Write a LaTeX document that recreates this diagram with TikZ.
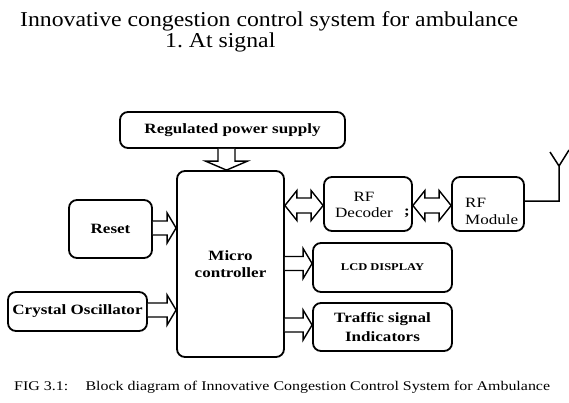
\documentclass[tikz,border=0pt]{standalone}
\usepackage{fontspec}
\setmainfont{Liberation Serif}[FakeStretch=1.2]
\newfontfamily\titlefont{Liberation Serif}[FakeStretch=1.12]
\usetikzlibrary{calc}
\tikzset{
  blk/.style={draw=black, line width=1.8pt, rounded corners=8pt, fill=white, inner sep=0pt, align=center, font=\bfseries\fontsize{14.2}{17}\selectfont},
  txt/.style={inner sep=0pt, align=center},
  barr/.style={draw=black, line width=1.4pt, fill=white, line join=miter},
  rblock/.style={barr, to path={let \p1=(\tikztostart), \p2=(\tikztotarget) in
    (\x1,\y1+7pt) -- (\x2-9pt,\y1+7pt) -- (\x2-9pt,\y1+15pt) -- (\x2,\y1) -- (\x2-9pt,\y1-15pt) -- (\x2-9pt,\y1-7pt) -- (\x1,\y1-7pt)}},
  dblock/.style={barr, to path={let \p1=(\tikztostart), \p2=(\tikztotarget) in
    (\x1-8.5pt,\y1) -- (\x1-8.5pt,\y2+9pt) -- (\x1-21pt,\y2+9pt) -- (\x1,\y2) -- (\x1+21pt,\y2+9pt) -- (\x1+8.5pt,\y2+9pt) -- (\x1+8.5pt,\y1)}},
  lrblock/.style={barr, to path={let \p1=(\tikztostart), \p2=(\tikztotarget) in
    (\x1,\y1) -- (\x1+12pt,\y1+15pt) -- (\x1+12pt,\y1+7.5pt) -- (\x2-12pt,\y1+7.5pt) -- (\x2-12pt,\y1+15pt) -- (\x2,\y1)
    -- (\x2-12pt,\y1-15pt) -- (\x2-12pt,\y1-7.5pt) -- (\x1+12pt,\y1-7.5pt) -- (\x1+12pt,\y1-15pt) -- cycle}},
}
\begin{document}
\begin{tikzpicture}[x=1pt,y=-1pt]
\useasboundingbox[fill=white] (0,0) rectangle (569,402);
% titles
\node[txt, anchor=base west, font=\titlefont\fontsize{21.2}{23}\selectfont] (title) at (20,26) {Innovative congestion control system for ambulance};
\node[txt, anchor=base west, font=\titlefont\fontsize{21.2}{23}\selectfont] (sub) at (165,47) {1.~At signal};
\node[txt, anchor=base west, font=\fontsize{13.3}{15}\selectfont] (cap) at (14,390) {FIG 3.1:\hspace{1.3em}Block diagram of Innovative Congestion Control System for Ambulance};
% blocks
\node[blk, minimum width=225pt, minimum height=36pt] (power) at (232.5,130) {Regulated power supply};
\node[blk, minimum width=107pt, minimum height=186pt] (mc) at (230.5,264) {Micro\\controller};
\node[blk, minimum width=83pt, minimum height=58pt] (reset) at (110.5,229) {Reset};
\node[blk, minimum width=139pt, minimum height=39pt] (crystal) at (77.5,311.5) {Crystal Oscillator};
\node[blk, minimum width=88pt, minimum height=54pt] (dec) at (368,204) {};
\node[txt, font=\fontsize{14.2}{16.5}\selectfont] (dectext) at (364,205) {RF\\Decoder};
\node[txt, font=\bfseries\fontsize{14}{15}\selectfont] (stray) at (407,213) {;};
\node[blk, minimum width=72pt, minimum height=54pt] (mod) at (488,204) {};
\node[txt, anchor=west, align=left, font=\fontsize{14.2}{17}\selectfont] (modtext) at (465,211) {RF\\Module};
\node[blk, minimum width=139pt, minimum height=49pt, font=\bfseries\fontsize{10.4}{13}\selectfont] (lcd) at (382.5,267.5) {LCD DISPLAY};
\node[blk, minimum width=139pt, minimum height=48pt, font=\bfseries\fontsize{14.2}{19}\selectfont] (traffic) at (382.5,327) {Traffic signal\\Indicators};
% antenna
\coordinate (ant1) at (559,201);
\coordinate (ant2) at (559,166);
\coordinate (antL) at (550,152);
\coordinate (antR) at (569,150);
\draw[line width=1.5pt] (mod.east |- ant1) -- (ant1) -- (ant2) -- (antL);
\draw[line width=1.5pt] (ant2) -- (antR);
% block arrows
\draw[dblock] (power.south -| 226.5,0) to (mc.north -| 226.5,0);
\draw[rblock] (reset.east |- 0,228) to (mc.west |- 0,228);
\draw[rblock] (crystal.east |- 0,310) to (mc.west |- 0,310);
\draw[rblock] (mc.east |- 0,263.5) to (lcd.west |- 0,263.5);
\draw[rblock] (mc.east |- 0,325) to (traffic.west |- 0,325);
\draw[lrblock] (mc.east |- 0,205.5) to (dec.west |- 0,205.5);
\draw[lrblock] (dec.east |- 0,205.5) to (mod.west |- 0,205.5);
\end{tikzpicture}
\end{document}
